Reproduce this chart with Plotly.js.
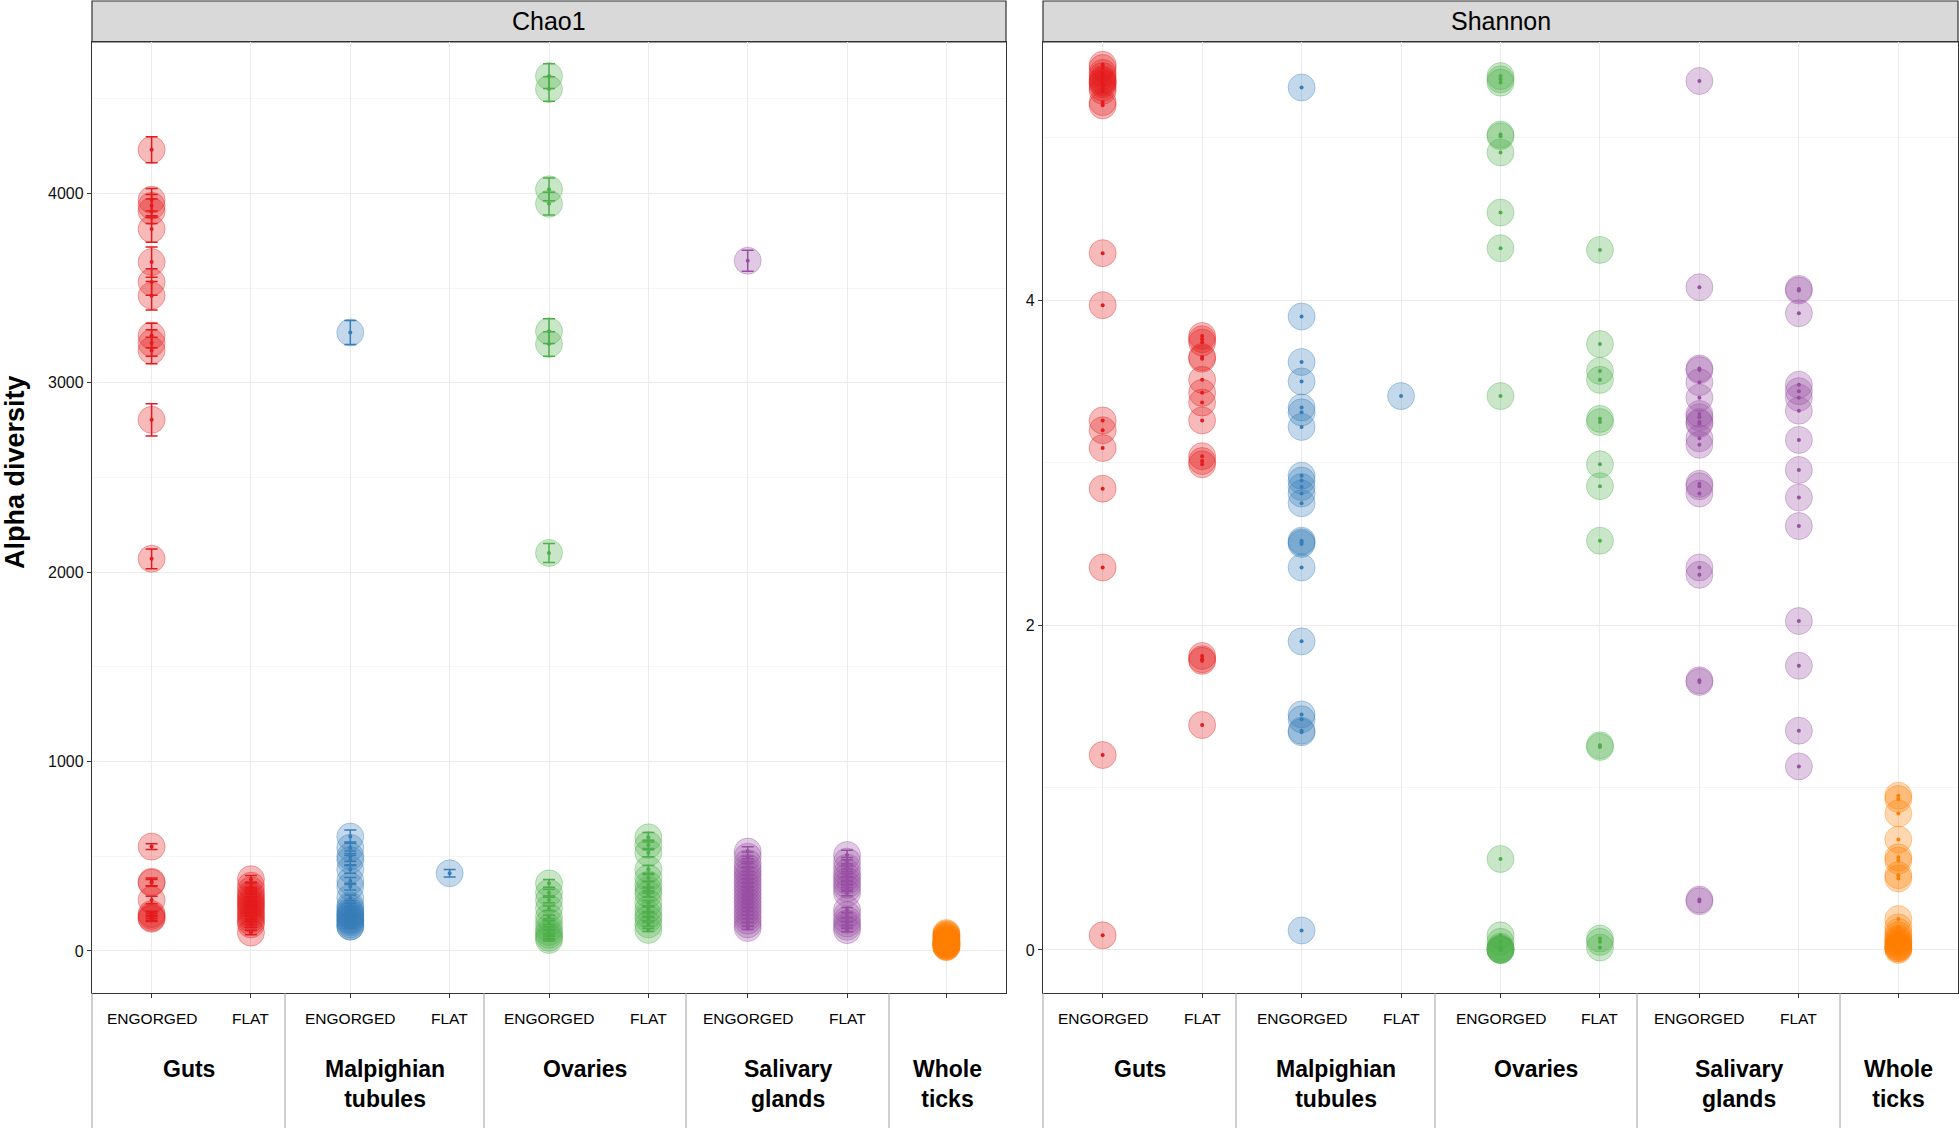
<!DOCTYPE html>
<html><head><meta charset="utf-8">
<script src="https://cdn.plot.ly/plotly-3.0.1.min.js"></script>
<style>html,body{margin:0;padding:0;background:#fff}#chart{width:1959px;height:1128px}</style>
</head><body><div id="chart"></div>
<script>
// ---------- data ----------
const categories = ["Guts ENGORGED","Guts FLAT","Malpighian tubules ENGORGED","Malpighian tubules FLAT",
  "Ovaries ENGORGED","Ovaries FLAT","Salivary glands ENGORGED","Salivary glands FLAT","Whole ticks"];
const conditionLabels = ["ENGORGED","FLAT","ENGORGED","FLAT","ENGORGED","FLAT","ENGORGED","FLAT",""];
const tissueLabels = ["Guts","Malpighian<br>tubules","Ovaries","Salivary<br>glands","Whole<br>ticks"];
const panelTitles = ["Chao1","Shannon"];
const yAxisTitle = "Alpha diversity";
const tissueColors = ["#E41A1C","#E41A1C","#377EB8","#377EB8","#4DAF4A","#4DAF4A","#984EA3","#984EA3","#FF7F00"];

// Chao1 values and standard errors
const chao1GutsEngorged = [4231,3967,3935,3906,3812,3638,3532,3460,3250,3210,3171,2805,2071,551,365,360,269,195,185,175,170];
const chao1GutsEngorgedSe = [68,60,60,65,70,80,70,75,65,70,70,85,52,15,20,18,20,15,15,15,15];
const chao1GutsFlat = [379,345,320,300,285,270,255,245,230,215,200,185,170,155,140,97];
const chao1GutsFlatSe = [20,18,15,15,15,15,15,15,15,15,15,15,15,15,15,12];
const chao1MalpEngorged = [3266,604,545,500,480,430,370,340,280,240,225,210,200,190,185,175,165,160,150,140,130,128];
const chao1MalpEngorgedSe = [63,35,30,28,25,20,18,18,15,12,12,12,10,10,10,10,10,10,8,8,8,8];
const chao1MalpFlat = [410];
const chao1MalpFlatSe = [20];
const chao1OvaEngorged = [4620,4552,4022,3946,3273,3205,2102,357,308,269,225,180,150,120,100,85,70,58];
const chao1OvaEngorgedSe = [65,65,60,60,65,65,50,20,18,15,12,10,10,8,8,6,6,5];
const chao1OvaFlat = [600,560,519,431,385,350,322,300,253,220,190,170,140,111];
const chao1OvaFlatSe = [25,25,22,20,18,18,16,15,14,12,12,10,10,8];
const chao1SalEngorged = [3645,525,498,465,440,420,400,380,360,340,320,300,280,260,240,220,200,180,160,140,121];
const chao1SalEngorgedSe = [55,25,25,22,20,20,18,18,18,16,16,15,15,14,14,12,12,10,10,10,8];
const chao1SalFlat = [507,472,440,412,390,370,350,330,306,217,190,164,145,128,110];
const chao1SalFlatSe = [25,22,20,20,18,18,16,16,15,12,12,10,10,8,8];
const chao1Whole = [95,90,85,80,75,70,65,60,55,50,48,45,42,40,38,35,32,30,28,25,22,20];
const chao1WholeSe = [6,6,5,5,5,5,4,4,4,4,4,3,3,3,3,3,3,3,2,2,2,2];

// Shannon values
const shannonGutsEngorged = [5.45,5.43,5.40,5.38,5.36,5.35,5.34,5.33,5.31,5.29,5.22,5.20,4.29,3.97,3.26,3.20,3.09,2.84,2.355,1.20,0.09];
const shannonGutsFlat = [3.78,3.76,3.74,3.65,3.64,3.51,3.43,3.37,3.26,3.04,2.99,3.01,1.81,1.79,1.78,1.385];
const shannonMalpEngorged = [5.31,3.90,3.62,3.50,3.34,3.31,3.22,2.92,2.89,2.85,2.81,2.75,2.52,2.50,2.51,2.355,1.90,1.45,1.42,1.35,1.34,0.12];
const shannonMalpFlat = [3.41];
const shannonOvaEngorged = [5.38,5.36,5.34,5.02,5.01,4.91,4.54,4.32,3.41,0.56,0.09,0.05,0.02,0.01,0.005,0.0,0.0,0.0];
const shannonOvaFlat = [4.31,3.73,3.565,3.51,3.27,3.25,2.99,2.855,2.52,1.26,1.25,0.07,0.05,0.015];
const shannonSalEngorged = [5.35,4.08,3.58,3.57,3.495,3.40,3.30,3.28,3.25,3.24,3.15,3.11,2.87,2.855,2.81,2.355,2.31,1.66,1.65,0.31,0.30];
const shannonSalFlat = [4.07,4.06,3.92,3.48,3.44,3.40,3.32,3.14,2.955,2.785,2.61,2.025,1.75,1.35,1.13];
const shannonWhole = [0.95,0.93,0.84,0.68,0.57,0.55,0.46,0.44,0.19,0.14,0.11,0.09,0.07,0.06,0.05,0.04,0.03,0.02,0.02,0.01,0.01,0.0];

const chao1Groups = [chao1GutsEngorged,chao1GutsFlat,chao1MalpEngorged,chao1MalpFlat,chao1OvaEngorged,chao1OvaFlat,chao1SalEngorged,chao1SalFlat,chao1Whole];
const chao1SeGroups = [chao1GutsEngorgedSe,chao1GutsFlatSe,chao1MalpEngorgedSe,chao1MalpFlatSe,chao1OvaEngorgedSe,chao1OvaFlatSe,chao1SalEngorgedSe,chao1SalFlatSe,chao1WholeSe];
const shannonGroups = [shannonGutsEngorged,shannonGutsFlat,shannonMalpEngorged,shannonMalpFlat,shannonOvaEngorged,shannonOvaFlat,shannonSalEngorged,shannonSalFlat,shannonWhole];

// ---------- layout geometry (px) ----------
const W = 1959, H = 1128;
const M = {l: 92, r: 1, t: 42, b: 135};
const PW = W - M.l - M.r, PH = H - M.t - M.b;
const px2x = px => (px - M.l) / PW;
const px2y = py => (H - M.b - py) / PH;
const panelPx = [[92, 1006], [1043, 1958]];
const sepOffsets = [0, 193, 392, 594, 797]; // group separators relative to panel left
const groupCellsRel = [[0,193],[193,392],[392,594],[594,797],[797,914]];
const FONT = "Liberation Sans, Arial, sans-serif";

function rgba(hex, a) {
  const r = parseInt(hex.slice(1,3),16), g = parseInt(hex.slice(3,5),16), b = parseInt(hex.slice(5,7),16);
  return `rgba(${r},${g},${b},${a})`;
}

const traces = [];
const smallTraces = [];
const panels = [
  {groups: chao1Groups, se: chao1SeGroups, xa: 'x', ya: 'y'},
  {groups: shannonGroups, se: null, xa: 'x2', ya: 'y2'}
];
panels.forEach(p => {
  p.groups.forEach((vals, i) => {
    const xs = vals.map(() => i + 1);
    const col = tissueColors[i];
    traces.push({
      type: 'scatter', mode: 'markers', x: xs, y: vals, xaxis: p.xa, yaxis: p.ya,
      marker: {size: 27, color: rgba(col, 0.3), line: {color: rgba(col, 0.35), width: 1}},
      hoverinfo: 'skip', showlegend: false, cliponaxis: false
    });
    const t = {
      type: 'scatter', mode: 'markers', x: xs, y: vals, xaxis: p.xa, yaxis: p.ya,
      marker: {size: 4, color: col}, hoverinfo: 'skip', showlegend: false
    };
    if (p.se) t.error_y = {type: 'data', array: p.se[i], visible: true, color: col, thickness: 1.5, width: 6};
    smallTraces.push(t);
  });
});

const shapes = [];
const annotations = [];
panelPx.forEach((pp, k) => {
  const x0 = px2x(pp[0]), x1 = px2x(pp[1]);
  // strip
  shapes.push({type: 'rect', xref: 'paper', yref: 'paper', x0: x0, x1: x1, y0: 1, y1: px2y(1),
    fillcolor: '#D9D9D9', line: {color: '#333333', width: 1.2}, layer: 'below'});
  annotations.push({xref: 'paper', yref: 'paper', x: (x0 + x1) / 2, y: px2y(21), text: panelTitles[k],
    showarrow: false, xanchor: 'center', yanchor: 'middle', font: {family: FONT, size: 25, color: '#000'}});
  // separators
  sepOffsets.forEach(o => {
    shapes.push({type: 'line', xref: 'paper', yref: 'paper', x0: px2x(pp[0] + o), x1: px2x(pp[0] + o),
      y0: 0, y1: px2y(H), line: {color: '#A0A0A0', width: 1}});
  });
  // condition labels
  conditionLabels.forEach((lab, i) => {
    if (!lab) return;
    annotations.push({xref: k === 0 ? 'x' : 'x2', yref: 'paper', x: i + 1, y: px2y(1018), text: lab,
      showarrow: false, xanchor: 'center', yanchor: 'middle', font: {family: FONT, size: 15.5, color: '#000'}});
  });
  // tissue labels
  tissueLabels.forEach((lab, j) => {
    const c = pp[0] + (groupCellsRel[j][0] + groupCellsRel[j][1]) / 2;
    annotations.push({xref: 'paper', yref: 'paper', x: px2x(c), y: px2y(1054), text: '<b>' + lab + '</b>',
      showarrow: false, xanchor: 'center', yanchor: 'top', font: {family: FONT, size: 23, color: '#000'}});
  });
});
annotations.push({xref: 'paper', yref: 'paper', x: px2x(15), y: px2y(472), text: '<b>' + yAxisTitle + '</b>',
  textangle: -90, showarrow: false, xanchor: 'center', yanchor: 'middle', font: {family: FONT, size: 27, color: '#000'}});

const xCommon = {
  range: [0.4, 9.6], tickvals: categories.map((c, i) => i + 1), ticktext: categories.map(() => ''),
  showgrid: true, gridcolor: '#EBEBEB', gridwidth: 1, zeroline: false,
  showline: true, mirror: true, linecolor: '#333333', linewidth: 1.2,
  ticks: 'outside', ticklen: 4, tickcolor: '#333333', tickwidth: 1, fixedrange: true
};
const yCommon = {
  showgrid: true, gridcolor: '#EBEBEB', gridwidth: 1, zeroline: false,
  showline: true, mirror: true, linecolor: '#333333', linewidth: 1.2,
  ticks: 'outside', ticklen: 4, tickcolor: '#333333', tickwidth: 1,
  tickfont: {family: FONT, size: 16, color: '#111'}, fixedrange: true
};

const layout = {
  width: W, height: H, margin: M, paper_bgcolor: '#fff', plot_bgcolor: '#fff', showlegend: false,
  xaxis: Object.assign({}, xCommon, {domain: [0, px2x(1006)], anchor: 'y'}),
  xaxis2: Object.assign({}, xCommon, {domain: [px2x(1043), 1], anchor: 'y2'}),
  yaxis: Object.assign({}, yCommon, {anchor: 'x', range: [-222, 4800], tickvals: [0,1000,2000,3000,4000],
    minor: {tickvals: [500,1500,2500,3500,4500], showgrid: true, gridcolor: '#F2F2F2', gridwidth: 0.8, ticks: ''}}),
  yaxis2: Object.assign({}, yCommon, {anchor: 'x2', range: [-0.265, 5.59], tickvals: [0,2,4],
    minor: {tickvals: [1,3,5], showgrid: true, gridcolor: '#F2F2F2', gridwidth: 0.8, ticks: ''}}),
  shapes: shapes, annotations: annotations
};

Plotly.newPlot('chart', traces.concat(smallTraces), layout, {staticPlot: true, displayModeBar: false});
</script></body></html>
